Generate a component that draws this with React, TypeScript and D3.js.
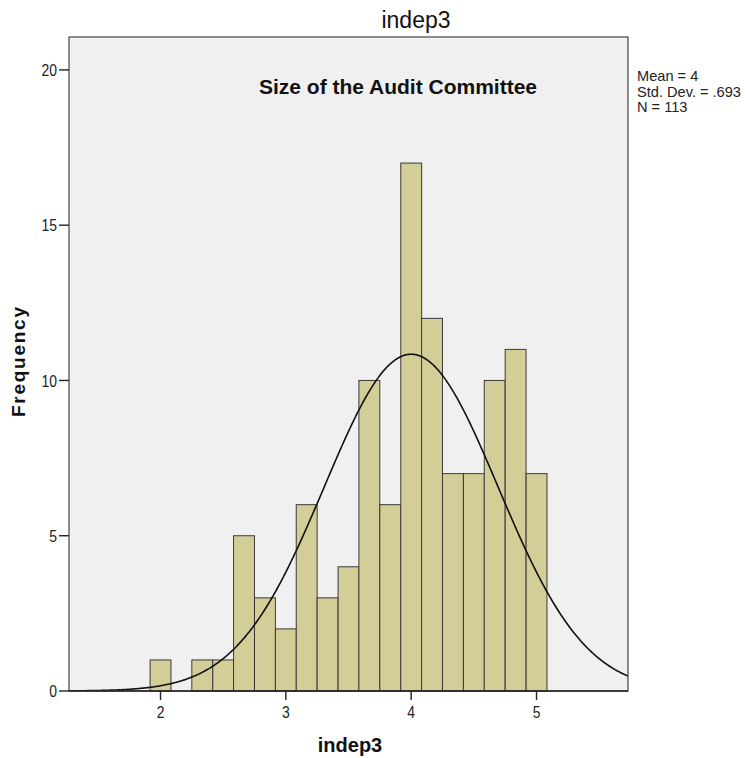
import React from 'react';
import * as d3 from 'd3';

// histogram bins (lower edge of each bin, width 1/6)
const binStarts = [1.917, 2.083, 2.25, 2.417, 2.583, 2.75, 2.917, 3.083, 3.25, 3.417,
  3.583, 3.75, 3.917, 4.083, 4.25, 4.417, 4.583, 4.75, 4.917];
const binWidth = 0.1667;
const counts = [1, 0, 1, 1, 5, 3, 2, 6, 3, 4, 10, 6, 17, 12, 7, 7, 10, 11, 7];

const xTicks = [2, 3, 4, 5];
const yTicks = [0, 5, 10, 15, 20];

const stats = { mean: 4, sd: 0.693, n: 113 };
const legendLines = ['Mean = 4', 'Std. Dev. = .693', 'N = 113'];

const FONT = '"Liberation Sans", Arial, sans-serif';

const App = () => {
  const width = 745;
  const height = 758;
  const frame = { left: 69, right: 628, top: 37, bottom: 691 };

  const x = d3.scaleLinear().domain([1.27, 5.73]).range([frame.left, frame.right]);
  const y = d3.scaleLinear().domain([0, 21.06]).range([frame.bottom, frame.top]);

  // fitted normal curve, scaled to counts
  const peak = (stats.n * binWidth) / (stats.sd * Math.sqrt(2 * Math.PI));
  const pts = d3.range(1.27, 5.735, 0.01).map(v => {
    const z = (v - stats.mean) / stats.sd;
    return [v, peak * Math.exp(-0.5 * z * z)] as [number, number];
  });
  const line = d3.line<[number, number]>().x(d => x(d[0])).y(d => y(d[1]));

  return (
    <svg width={width} height={height}
      style={{ position: 'absolute', left: 0, top: 0, background: '#fff' }}
      fontFamily={FONT}>
      <defs>
        <clipPath id="plotclip">
          <rect x={frame.left} y={frame.top} width={frame.right - frame.left} height={frame.bottom - frame.top} />
        </clipPath>
      </defs>

      {/* plot background */}
      <rect x={frame.left} y={frame.top} width={frame.right - frame.left}
        height={frame.bottom - frame.top} fill="#f0f0f0" />

      {/* bars */}
      {counts.map((c, i) => c > 0 && (
        <rect key={i}
          x={x(binStarts[i])} y={y(c)}
          width={x(binStarts[i] + binWidth) - x(binStarts[i])}
          height={y(0) - y(c)}
          fill="#d3ce98" stroke="#3a3a3a" strokeWidth={1} />
      ))}

      {/* normal curve */}
      <path d={line(pts) || ''} fill="none" stroke="#111" strokeWidth={1.6}
        clipPath="url(#plotclip)" />

      {/* frame */}
      <rect x={frame.left} y={frame.top} width={frame.right - frame.left}
        height={frame.bottom - frame.top} fill="none" stroke="#444" strokeWidth={1.2} />
      <line x1={frame.left} x2={frame.right} y1={frame.bottom} y2={frame.bottom}
        stroke="#222" strokeWidth={1.6} />

      {/* y axis ticks */}
      {yTicks.map(t => (
        <g key={t}>
          <line x1={frame.left - 10} x2={frame.left} y1={y(t)} y2={y(t)} stroke="#222" strokeWidth={1.4} />
          <text transform={`translate(57,${y(t)}) scale(0.82,1)`} dy="0.36em" textAnchor="end"
            fontSize={17} fill="#222">{t}</text>
        </g>
      ))}

      {/* x axis ticks */}
      {xTicks.map(t => (
        <g key={t}>
          <line x1={x(t)} x2={x(t)} y1={frame.bottom} y2={frame.bottom + 9} stroke="#222" strokeWidth={1.4} />
          <text transform={`translate(${x(t)},718) scale(0.82,1)`} textAnchor="middle"
            fontSize={17} fill="#222">{t}</text>
        </g>
      ))}

      {/* titles */}
      <text x={416} y={28} textAnchor="middle" fontSize={23} fill="#111">indep3</text>
      <text x={398} y={94} textAnchor="middle" fontSize={21} fontWeight="bold" fill="#111">
        Size of the Audit Committee
      </text>
      <text x={350} y={752} textAnchor="middle" fontSize={20} fontWeight="bold" fill="#111">indep3</text>
      <text transform="translate(25,362) rotate(-90)" textAnchor="middle" fontSize={19}
        fontWeight="bold" fill="#111" textLength={110} lengthAdjust="spacing">Frequency</text>

      {/* legend */}
      {legendLines.map((s, i) => (
        <text key={s} x={637} y={81 + i * 15.5} fontSize={14.6} fill="#222">{s}</text>
      ))}
    </svg>
  );
};

export default App;
